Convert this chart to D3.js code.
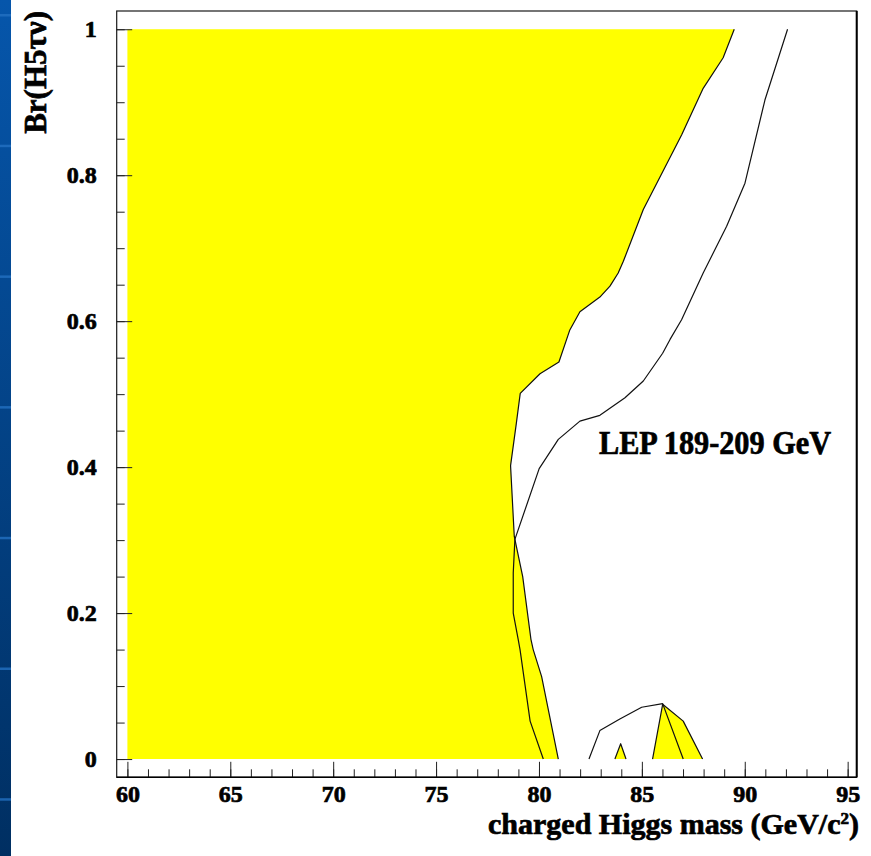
<!DOCTYPE html>
<html>
<head>
<meta charset="utf-8">
<script src="https://cdn.jsdelivr.net/npm/d3@7"></script>
<style>
  html, body { margin: 0; padding: 0; background: #fff; }
  svg { display: block; }
  .lbl { font-family: "Liberation Serif", "Times New Roman", serif !important; font-weight: bold; fill: #000; stroke: #000; stroke-width: 0.7px; }
</style>
</head>
<body>
<svg id="chart" width="871" height="856"></svg>
<script>
// Observed excluded region (main contour), from Br = 1 down to Br = 0
const obsMass = [89.49, 88.95, 87.98, 86.93, 85.07, 84.10, 83.85, 83.45, 82.96, 81.99, 81.50, 80.97, 80.05, 79.09, 78.90, 78.62, 78.80, 79.21, 79.61, 79.72, 80.13, 80.94];
const obsBr   = [1.000, 0.961, 0.919, 0.855, 0.753, 0.682, 0.666, 0.648, 0.633, 0.613, 0.588, 0.544, 0.528, 0.501, 0.460, 0.402, 0.305, 0.250, 0.164, 0.150, 0.113, 0.000];

// Small observed islands near Br = 0
const island1Mass = [83.69, 83.97, 84.23];
const island1Br   = [0.000, 0.021, 0.000];
const island2Mass = [85.52, 86.01, 87.01, 87.95];
const island2Br   = [0.000, 0.075, 0.052, 0.000];

// Expected limit contours
const expMass = [92.08, 90.98, 90.01, 89.12, 87.98, 86.93, 86.37, 86.01, 85.07, 84.18, 82.96, 81.99, 80.94, 80.01, 78.83, 78.75, 78.75, 78.99, 79.08, 79.57, 80.21];
const expBr   = [1.000, 0.903, 0.789, 0.730, 0.666, 0.602, 0.575, 0.556, 0.518, 0.495, 0.471, 0.463, 0.438, 0.398, 0.301, 0.255, 0.200, 0.164, 0.150, 0.052, 0.000];
const exp2Mass = [82.43, 82.96, 83.93, 84.99, 86.01, 87.01];
const exp2Br   = [0.000, 0.039, 0.055, 0.071, 0.076, 0.000];

// Axis ticks
const xMajorTicks = [60, 65, 70, 75, 80, 85, 90, 95];
const xMinorTicks = d3.range(60, 96, 1);
const yMajorTicks = [0, 0.2, 0.4, 0.6, 0.8, 1];
const yTickLabels = ["0", "0.2", "0.4", "0.6", "0.8", "1"];
const yMinorTicks = d3.range(0, 1.0001, 0.05);

const FONT = '"Liberation Serif", "Times New Roman", serif';
const svg = d3.select("#chart");

// Presentation background strip on the left
const defs = svg.append("defs");
const grad = defs.append("linearGradient").attr("id", "strip").attr("x1", 0).attr("y1", 0).attr("x2", 0).attr("y2", 1);
grad.append("stop").attr("offset", "0%").attr("stop-color", "#0656ab");
grad.append("stop").attr("offset", "100%").attr("stop-color", "#002f62");
svg.append("rect").attr("x", 0).attr("y", 0).attr("width", 11).attr("height", 856).attr("fill", "url(#strip)");
for (let yy = 14; yy < 856; yy += 130.7) {
  svg.append("rect").attr("x", 0).attr("y", yy).attr("width", 11).attr("height", 2.5).attr("fill", "#2370c2").attr("opacity", 0.8);
}

const x = d3.scaleLinear().domain([59.48, 95.44]).range([116.7, 856.7]);
const y = d3.scaleLinear().domain([-0.025, 1.025]).range([777.3, 11]);

const line = d3.line().x(d => x(d[0])).y(d => y(d[1]));
const zip = (a, b) => a.map((v, i) => [v, b[i]]);

const obsPts = zip(obsMass, obsBr);
const isl1 = zip(island1Mass, island1Br);
const isl2 = zip(island2Mass, island2Br);

// Yellow filled excluded regions
const mainPoly = [[60, 0], [60, 1]].concat(obsPts);
svg.append("path").attr("d", line(mainPoly) + "Z").attr("fill", "#ffff00").attr("stroke", "none");
svg.append("path").attr("d", line(isl1) + "Z").attr("fill", "#ffff00");
svg.append("path").attr("d", line(isl2) + "Z").attr("fill", "#ffff00");

// Contour lines
const drawLine = pts => svg.append("path").attr("d", line(pts))
  .attr("fill", "none").attr("stroke", "#111").attr("stroke-width", 1.2).attr("stroke-linejoin", "round");
drawLine(obsPts);
drawLine(isl1);
drawLine(isl2);
drawLine(zip(expMass, expBr));
drawLine(zip(exp2Mass, exp2Br));

// Axes with inward ticks
const xMinor = svg.append("g").attr("transform", `translate(0,${y.range()[0]})`)
  .call(d3.axisBottom(x).tickValues(xMinorTicks).tickSize(-8).tickFormat(""));
const xMajor = svg.append("g").attr("transform", `translate(0,${y.range()[0]})`)
  .call(d3.axisBottom(x).tickValues(xMajorTicks).tickSize(-15.5).tickPadding(8).tickFormat(d3.format("d")));
const yMinor = svg.append("g").attr("transform", `translate(${x.range()[0]},0)`)
  .call(d3.axisLeft(y).tickValues(yMinorTicks).tickSize(-8).tickFormat(""));
const yMajor = svg.append("g").attr("transform", `translate(${x.range()[0]},0)`)
  .call(d3.axisLeft(y).tickValues(yMajorTicks).tickSize(-15.5).tickPadding(20).tickFormat((d, i) => yTickLabels[i]));

[xMinor, xMajor, yMinor, yMajor].forEach(g => {
  g.attr("font-family", FONT);
  g.select(".domain").remove();
  g.selectAll(".tick line").attr("stroke", "#222").attr("stroke-width", 1);
  g.selectAll(".tick text").attr("class", "lbl")
    .style("font-family", FONT).style("font-size", "24px").attr("fill", "#000");
});

// Frame
svg.append("rect").attr("x", 116.7).attr("y", 11).attr("width", 740).attr("height", 766.3)
  .attr("fill", "none").attr("stroke", "#1a1a1a").attr("stroke-width", 1.2);
svg.append("line").attr("x1", 856.7).attr("x2", 856.7).attr("y1", 11).attr("y2", 777.3)
  .attr("stroke", "#000").attr("stroke-width", 2);
svg.append("line").attr("x1", 116.7).attr("x2", 856.7).attr("y1", 777.3).attr("y2", 777.3)
  .attr("stroke", "#000").attr("stroke-width", 1.6);

// Annotation
svg.append("text").attr("class", "lbl").attr("x", 599).attr("y", 454)
  .attr("textLength", 232).attr("lengthAdjust", "spacingAndGlyphs")
  .style("font-family", FONT).style("font-size", "33px").text("LEP 189-209 GeV");

// Axis titles
const xt = svg.append("text").attr("class", "lbl").attr("x", 859).attr("y", 834)
  .attr("text-anchor", "end").style("font-family", FONT).style("font-size", "30px");
xt.append("tspan").text("charged Higgs mass (GeV/c");
xt.append("tspan").attr("dy", -10).style("font-size", "17px").text("2");
xt.append("tspan").attr("dy", 10).text(")");

svg.append("text").attr("class", "lbl")
  .attr("transform", "translate(46,11) rotate(-90)")
  .attr("text-anchor", "end").style("font-family", FONT).style("font-size", "31px").text("Br(H5τν)");
</script>
</body>
</html>
